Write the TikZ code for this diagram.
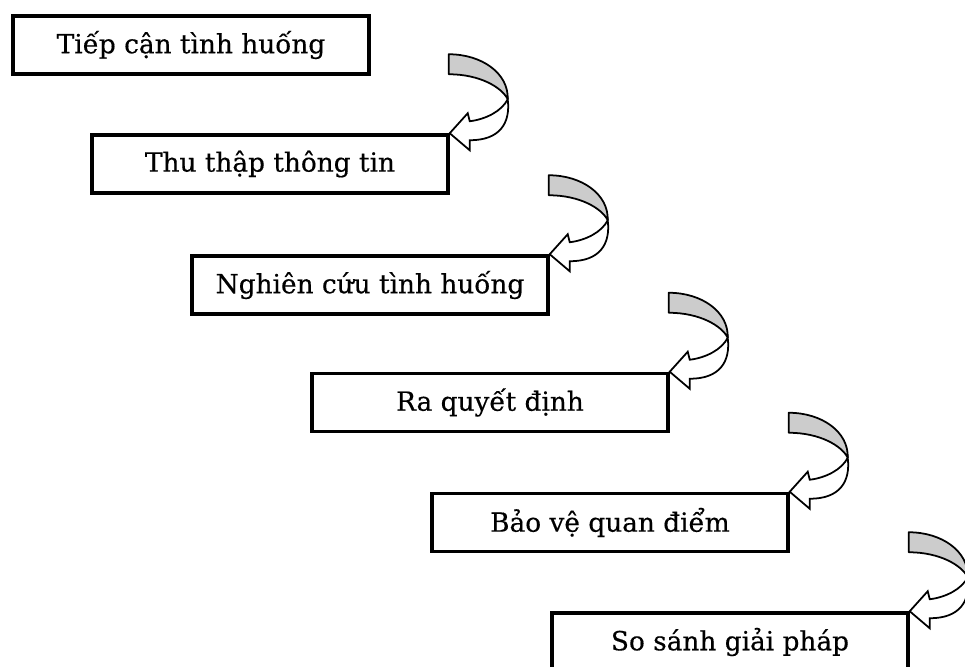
\documentclass[tikz,border=0pt]{standalone}
\usepackage{fontspec}
\setmainfont{DejaVu Serif}
\newfontfamily\boxfont[FakeBold=0.4]{DejaVu Serif}
\definecolor{ribbongray}{RGB}{204,204,204}

\begin{document}
\begin{tikzpicture}[x=0.02cm,y=-0.02cm]
			\tikzstyle{stage}=[draw,line width=2pt,minimum width=7.12cm,minimum height=1.16cm,inner sep=0pt,font=\boxfont\fontsize{15}{17}\selectfont]
			\tikzstyle{ribbon back}=[draw,fill=ribbongray,line width=1pt,line join=round]
			\tikzstyle{ribbon front}=[draw,fill=white,line width=1pt,line join=miter]
			
			\useasboundingbox (0,0) rectangle (965,667);
			\clip (0,0) rectangle (965,667);
			
			\node[stage] (b1) at (191,45) {Tiếp cận tình huống};
			\node[stage] (b2) at (270,164) {Thu thập thông tin};
			\node[stage] (b3) at (370,285) {Nghiên cứu tình huống};
			\node[stage] (b4) at (490,402.5) {Ra quyết định};
			\node[stage] (b5) at (610,522.5) {Bảo vệ quan điểm};
			\node[stage] (b6) at (730,642) {So sánh giải pháp};
			
			\foreach \j in {2,...,6}{
				\begin{scope}[shift={(b\j.north east)}]
					\draw[ribbon back] (-1,-79) .. controls (32,-79) and (59,-60) .. (58,-34)
						.. controls (52,-46) and (30,-59) .. (-1,-59) -- cycle;
					\draw[ribbon front] (58,-34) .. controls (52,-22) and (36,-14) .. (20,-12)
						-- (18,-20) -- (0,0) -- (20,17) -- (20,7)
						.. controls (50,7) and (61,-10) .. (58,-34) -- cycle;
				\end{scope}
			}
			
\end{tikzpicture}
\end{document}
